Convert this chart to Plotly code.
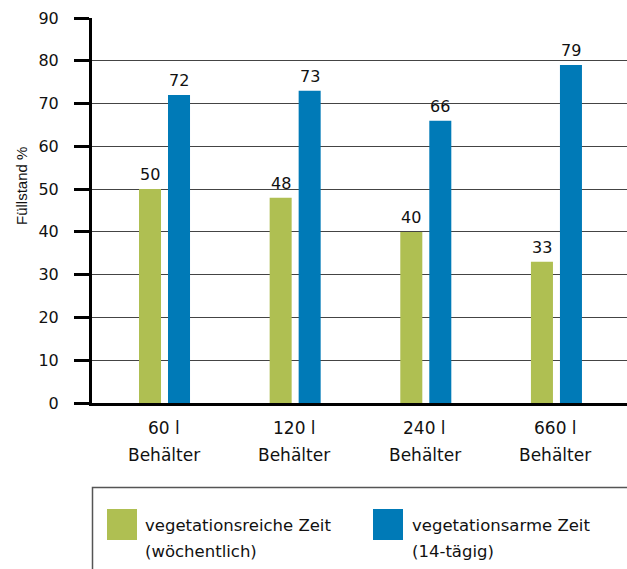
import plotly.graph_objects as go

# ---- data ----
categories = ["60 l", "120 l", "240 l", "660 l"]
category_suffix = "Behälter"
series_names = ["vegetationsreiche Zeit", "vegetationsarme Zeit"]
series_notes = ["(wöchentlich)", "(14-tägig)"]
values_reich = [50, 48, 40, 33]
values_arm = [72, 73, 66, 79]
y_ticks = [0, 10, 20, 30, 40, 50, 60, 70, 80, 90]
y_title = "Füllstand %"

GREEN = "#AFBF52"
BLUE = "#007AB7"
W, H = 627, 569
L, R, T, B = 92, 627, 18, 403  # plot area in pixels


def px_x(p):
    return (p - L) / (R - L)


def px_y(p):
    return (B - p) / (B - T)


NUM_FONT = dict(family="DejaVu Sans, Arial, sans-serif", size=16, color="#111")
TXT_FONT = dict(family="DejaVu Sans, Arial, sans-serif", size=16.5, color="#111")

fig = go.Figure()
fig.add_trace(go.Bar(x=categories, y=values_reich, name=series_names[0],
                     marker=dict(color=GREEN, line=dict(width=0))))
fig.add_trace(go.Bar(x=categories, y=values_arm, name=series_names[1],
                     marker=dict(color=BLUE, line=dict(width=0))))

annotations = []
# value labels above bars
for vals, shift in ((values_reich, -14.5), (values_arm, 14.5)):
    for c, v in zip(categories, vals):
        annotations.append(dict(x=c, y=v, xref="x", yref="y", text=str(v),
                                showarrow=False, xshift=shift, yshift=3,
                                yanchor="bottom", xanchor="center", font=NUM_FONT))
# category labels (two lines)
for c in categories:
    annotations.append(dict(x=c, y=px_y(428), xref="x", yref="paper", text=c,
                            showarrow=False, xshift=-1, yanchor="middle",
                            font=dict(family=TXT_FONT["family"], size=17, color="#111")))
    annotations.append(dict(x=c, y=px_y(455), xref="x", yref="paper", text=category_suffix,
                            showarrow=False, xshift=-1, yanchor="middle",
                            font=dict(family=TXT_FONT["family"], size=17, color="#111")))
# y title
annotations.append(dict(x=px_x(21), y=px_y(186), xref="paper", yref="paper", text=y_title,
                        textangle=-90, showarrow=False, xanchor="center", yanchor="middle",
                        font=dict(family="Liberation Sans, Arial, sans-serif", size=15, color="#111")))

# legend (box, swatches, texts)
shapes = [dict(type="rect", xref="paper", yref="paper",
               x0=px_x(92.5), x1=px_x(660), y0=px_y(487.5), y1=px_y(600),
               line=dict(color="#555", width=1.5), fillcolor="rgba(0,0,0,0)", layer="above")]
legend_items = [(GREEN, 107, 143), (BLUE, 373, 410)]
for (col, sx, tx), name, note in zip(legend_items, series_names, series_notes):
    shapes.append(dict(type="rect", xref="paper", yref="paper",
                       x0=px_x(sx), x1=px_x(sx + 30), y0=px_y(509), y1=px_y(540),
                       line=dict(width=0), fillcolor=col, layer="above"))
    annotations.append(dict(x=px_x(tx), y=px_y(525), xref="paper", yref="paper", text=name,
                            showarrow=False, xanchor="left", yanchor="middle", font=TXT_FONT))
    annotations.append(dict(x=px_x(tx), y=px_y(551), xref="paper", yref="paper", text=note,
                            showarrow=False, xanchor="left", yanchor="middle", font=TXT_FONT))

fig.update_layout(
    width=W, height=H, autosize=False,
    margin=dict(l=L, r=W - R, t=T, b=H - B, pad=0),
    paper_bgcolor="white", plot_bgcolor="white",
    barmode="group", bargap=0.556, bargroupgap=0.241,
    showlegend=False,
    annotations=annotations, shapes=shapes,
    xaxis=dict(type="category", range=[-0.555, 3.54], showticklabels=False,
               ticks="", showline=True, linecolor="black", linewidth=3,
               showgrid=False, zeroline=False, fixedrange=True),
    yaxis=dict(range=[0, 90], tickvals=y_ticks, ticks="outside", ticklen=15,
               tickwidth=3, tickcolor="black", showline=True, linecolor="black",
               linewidth=3, showgrid=True, gridcolor="#444", gridwidth=1,
               zeroline=False, tickfont=NUM_FONT, ticklabelstandoff=12,
               fixedrange=True),
)

fig.write_html("out.html", config={"displayModeBar": False},
               post_script="document.body.style.margin='0';document.body.style.overflow='hidden';")
